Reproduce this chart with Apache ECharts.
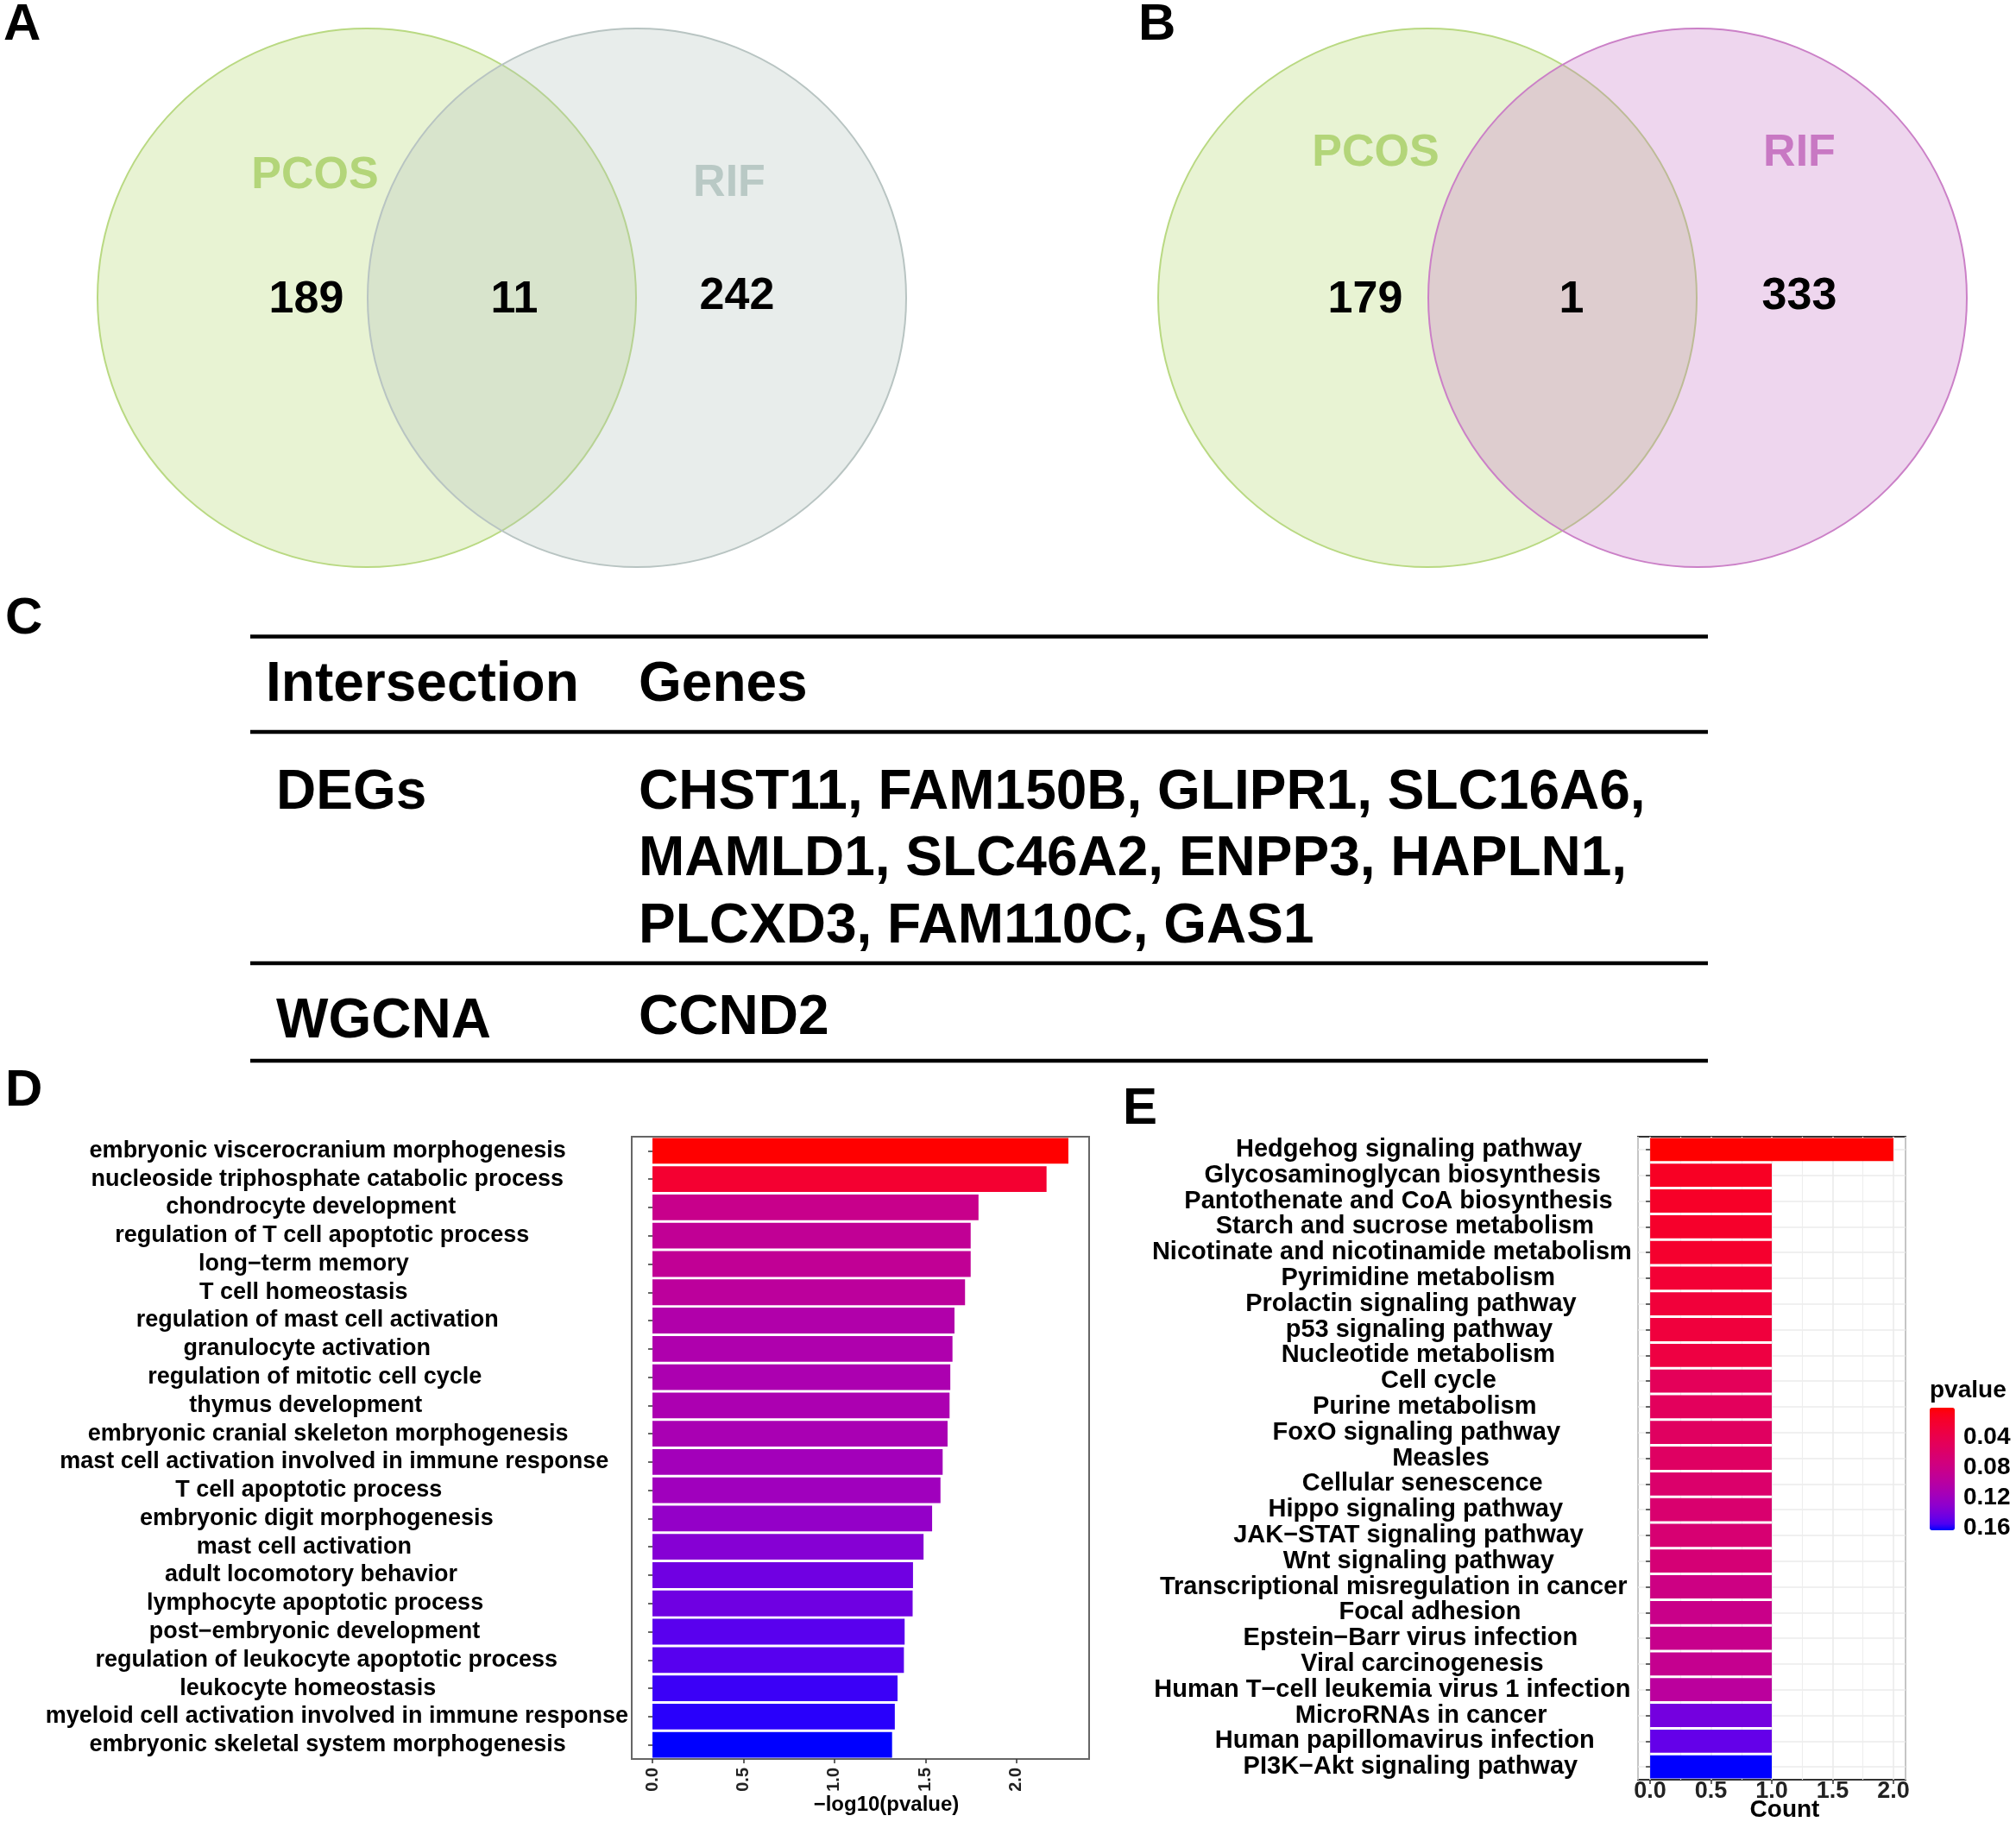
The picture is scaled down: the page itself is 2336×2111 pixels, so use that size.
<!DOCTYPE html>
<html><head><meta charset="utf-8">
<script src="https://cdn.jsdelivr.net/npm/echarts@6/dist/echarts.min.js"></script>
<style>html,body{margin:0;padding:0;background:#fff}#c{width:2336px;height:2111px}</style>
</head><body><div id="c"></div>
<script>
// ---------------- data ----------------
const vennSets = ['PCOS', 'RIF'];
const vennA_counts = [189, 11, 242];
const vennB_counts = [179, 1, 333];

const tableHeader = ['Intersection', 'Genes'];
const tableRowNames = ['DEGs', 'WGCNA'];
const tableRowGenes = [
  ['CHST11, FAM150B, GLIPR1, SLC16A6,', 'MAMLD1, SLC46A2, ENPP3, HAPLN1,', 'PLCXD3, FAM110C, GAS1'],
  ['CCND2']
];

const goTerms = [
  'embryonic viscerocranium morphogenesis',
  'nucleoside triphosphate catabolic process',
  'chondrocyte development',
  'regulation of T cell apoptotic process',
  'long\u2212term memory',
  'T cell homeostasis',
  'regulation of mast cell activation',
  'granulocyte activation',
  'regulation of mitotic cell cycle',
  'thymus development',
  'embryonic cranial skeleton morphogenesis',
  'mast cell activation involved in immune response',
  'T cell apoptotic process',
  'embryonic digit morphogenesis',
  'mast cell activation',
  'adult locomotory behavior',
  'lymphocyte apoptotic process',
  'post\u2212embryonic development',
  'regulation of leukocyte apoptotic process',
  'leukocyte homeostasis',
  'myeloid cell activation involved in immune response',
  'embryonic skeletal system morphogenesis'
];
const goLogP = [2.286, 2.166, 1.792, 1.749, 1.749, 1.718, 1.660, 1.649, 1.637, 1.633, 1.622,
  1.595, 1.583, 1.537, 1.490, 1.432, 1.430, 1.386, 1.382, 1.347, 1.332, 1.317];

const keggTerms = [
  'Hedgehog signaling pathway',
  'Glycosaminoglycan biosynthesis',
  'Pantothenate and CoA biosynthesis',
  'Starch and sucrose metabolism',
  'Nicotinate and nicotinamide metabolism',
  'Pyrimidine metabolism',
  'Prolactin signaling pathway',
  'p53 signaling pathway',
  'Nucleotide metabolism',
  'Cell cycle',
  'Purine metabolism',
  'FoxO signaling pathway',
  'Measles',
  'Cellular senescence',
  'Hippo signaling pathway',
  'JAK\u2212STAT signaling pathway',
  'Wnt signaling pathway',
  'Transcriptional misregulation in cancer',
  'Focal adhesion',
  'Epstein\u2212Barr virus infection',
  'Viral carcinogenesis',
  'Human T\u2212cell leukemia virus 1 infection',
  'MicroRNAs in cancer',
  'Human papillomavirus infection',
  'PI3K\u2212Akt signaling pathway'
];
const keggCounts = [2, 1, 1, 1, 1, 1, 1, 1, 1, 1, 1, 1, 1, 1, 1, 1, 1, 1, 1, 1, 1, 1, 1, 1, 1];
const keggPvalues = [0.001, 0.014, 0.016, 0.018, 0.020, 0.024, 0.027, 0.029, 0.032, 0.048, 0.050,
  0.053, 0.055, 0.061, 0.063, 0.066, 0.068, 0.078, 0.083, 0.085, 0.087, 0.097, 0.142, 0.148, 0.163];
const pvalueTicks = [0.04, 0.08, 0.12, 0.16];

// ---------------- colour helpers (Lab interpolation red -> blue) ----------------
function s2l(c){c/=255;return c<=0.04045?c/12.92:Math.pow((c+0.055)/1.055,2.4);}
function l2s(c){c=Math.max(0,Math.min(1,c));return Math.round(255*(c<=0.0031308?12.92*c:1.055*Math.pow(c,1/2.4)-0.055));}
function rgbToLab(rgb){
  const R=s2l(rgb[0]),G=s2l(rgb[1]),B=s2l(rgb[2]);
  const X=(0.4124*R+0.3576*G+0.1805*B)/0.95047,Y=0.2126*R+0.7152*G+0.0722*B,Z=(0.0193*R+0.1192*G+0.9505*B)/1.08883;
  const f=t=>t>216/24389?Math.cbrt(t):(24389/27*t+16)/116;
  const fx=f(X),fy=f(Y),fz=f(Z);
  return [116*fy-16,500*(fx-fy),200*(fy-fz)];
}
function labToRgb(lab){
  const fy=(lab[0]+16)/116,fx=fy+lab[1]/500,fz=fy-lab[2]/200;
  const fi=t=>t*t*t>216/24389?t*t*t:(116*t-16)/(24389/27);
  const X=0.95047*fi(fx),Y=fi(fy),Z=1.08883*fi(fz);
  const R=3.2406*X-1.5372*Y-0.4986*Z,G=-0.9689*X+1.8758*Y+0.0415*Z,B=0.0557*X-0.2040*Y+1.0570*Z;
  return 'rgb('+l2s(R)+','+l2s(G)+','+l2s(B)+')';
}
const LAB_R=rgbToLab([255,0,0]),LAB_B=rgbToLab([0,0,255]);
function redBlue(t){return labToRgb(LAB_R.map((v,i)=>v+(LAB_B[i]-v)*t));}

const FONT='"Liberation Sans", Arial, Helvetica, sans-serif';
const goMax=Math.max(...goLogP),goMin=Math.min(...goLogP);
const pMin=Math.min(...keggPvalues),pMax=Math.max(...keggPvalues);

// ---------------- layout constants ----------------
const gridD={left:732,top:1317,width:530,height:721};
const gridE={left:1898,top:1317,width:310,height:745};
const legendBar={left:2236,top:1631,w:29,h:142};
const TY=4; // vertical text nudge

// label placement (mimics the original's label anchoring)
const mctx=document.createElement('canvas').getContext('2d');
function textW(s,size){mctx.font='bold '+size+'px '+FONT;return mctx.measureText(s).width;}
function labelRich(labels,size,axisX,margin,centerFn){
  const rich={};
  labels.forEach((s,i)=>{
    const w=textW(s,size);
    const c=centerFn(w);
    const pr=Math.max(0,axisX-margin-(c+w/2));
    rich['r'+i]={fontSize:size,fontWeight:'bold',fontFamily:FONT,color:'#000',padding:[0,pr,0,0]};
  });
  return rich;
}
const D_LS=27,E_LS=29,LBL_MARGIN=4;
const richD=labelRich(goTerms,D_LS,gridD.left,LBL_MARGIN,w=>330+0.09*w);
const richE=labelRich(keggTerms,E_LS,gridE.left,LBL_MARGIN,w=>1684-0.128*w);

// ---------------- graphic: venns, table, panel letters ----------------
const g=[];
function txt(text,x,y,size,color,align){
  g.push({type:'text',z:10,style:{text:text,x:x,y:y+TY,font:'bold '+size+'px '+FONT,fill:color,
    align:align||'center',verticalAlign:'middle',textAlign:align||'center',textVerticalAlign:'middle'}});
}
function venn(cxL,cxR,cy,r,fillR,strokeR){
  g.push({type:'circle',shape:{cx:cxL,cy:cy,r:r},style:{fill:'rgba(190,220,130,0.35)',stroke:'#b9d982',lineWidth:2}});
  g.push({type:'circle',shape:{cx:cxR,cy:cy,r:r},style:{fill:fillR,stroke:strokeR,lineWidth:2}});
}
venn(425,738,345,312,'rgba(180,195,190,0.30)','#b8c4c2');
txt(vennSets[0],365,200,52,'#b3d579');
txt(vennSets[1],845,209,52,'#b9c9c5');
txt(String(vennA_counts[0]),355,344,52,'#000');
txt(String(vennA_counts[1]),596,344,52,'#000');
txt(String(vennA_counts[2]),854,340,52,'#000');

venn(1654,1967,345,312,'rgba(200,120,200,0.30)','#cb80c7');
txt(vennSets[0],1594,174,52,'#b3d579');
txt(vennSets[1],2085,174,52,'#c878c3');
txt(String(vennB_counts[0]),1582,344,52,'#000');
txt(String(vennB_counts[1]),1821,344,52,'#000');
txt(String(vennB_counts[2]),2085,340,52,'#000');

// table
[737.6,848,1116,1229].forEach(y=>g.push({type:'line',shape:{x1:290,y1:y,x2:1979,y2:y},style:{stroke:'#000',lineWidth:4.5}}));
txt(tableHeader[0],308,790,64,'#000','left');
txt(tableHeader[1],740,790,64,'#000','left');
txt(tableRowNames[0],320,915,64,'#000','left');
tableRowGenes[0].forEach((s,i)=>txt(s,740,915+i*77.5,64,'#000','left'));
txt(tableRowNames[1],320,1180,64,'#000','left');
txt(tableRowGenes[1][0],740,1176,64,'#000','left');

// panel letters
txt('A',4,25,60,'#000','left');
txt('B',1319,25,60,'#000','left');
txt('C',6,713,60,'#000','left');
txt('D',6,1260,60,'#000','left');
txt('E',1301,1281,60,'#000','left');

// pvalue legend title + tick labels
txt('pvalue',legendBar.left,1607,28,'#000','left');
pvalueTicks.forEach(v=>{
  const y=legendBar.top+(v-pMin)/(pMax-pMin)*legendBar.h;
  txt(v.toFixed(2),legendBar.left+legendBar.w+10,y-4,28,'#000','left');
});

// visualMap stops
const stops=[];for(let i=0;i<=20;i++)stops.push(redBlue(i/20));

const nE=keggTerms.length;
const option={
  animation:false,
  backgroundColor:'#fff',
  graphic:{elements:g},
  grid:[
    Object.assign({show:true,borderColor:'#666',borderWidth:2,backgroundColor:'#fff',outerBoundsMode:'none',containLabel:false},gridD),
    Object.assign({show:true,borderColor:'#333',borderWidth:2,backgroundColor:'#fff',outerBoundsMode:'none',containLabel:false},gridE)
  ],
  xAxis:[
    {type:'value',gridIndex:0,min:-0.114,max:2.4,splitNumber:5,
     axisLine:{show:false},splitLine:{show:false},
     axisTick:{show:true,length:5,lineStyle:{color:'#333',width:1.5}},
     axisLabel:{rotate:90,margin:10,fontSize:20,fontWeight:'bold',color:'#222',fontFamily:FONT,
       showMinLabel:false,showMaxLabel:false,formatter:v=>v.toFixed(1)},
     name:'\u2212log10(pvalue)',nameLocation:'middle',nameGap:40,
     nameTextStyle:{fontSize:24,fontWeight:'bold',color:'#000',fontFamily:FONT,padding:[0,0,0,60]}},
    {type:'value',gridIndex:1,min:-0.1,max:2.1,splitNumber:5,
     axisLine:{show:false},
     axisTick:{show:true,length:5,lineStyle:{color:'#333',width:1.5}},
     splitLine:{show:true,lineStyle:{color:'#ebebeb',width:1.6}},
     minorTick:{show:false,splitNumber:2},
     minorSplitLine:{show:true,lineStyle:{color:'#eeeeee',width:1.2}},
     axisLabel:{margin:0,fontSize:27,fontWeight:'bold',color:'#222',fontFamily:FONT,
       showMinLabel:false,showMaxLabel:false,formatter:v=>v.toFixed(1)},
     name:'Count',nameLocation:'middle',nameGap:21,nameMoveOverlap:false,
     nameTextStyle:{fontSize:28,fontWeight:'bold',color:'#000',fontFamily:FONT,padding:[0,0,0,30]}}
  ],
  yAxis:[
    {type:'category',gridIndex:0,data:goTerms,inverse:true,
     axisLine:{show:false},splitLine:{show:false},
     axisTick:{show:true,alignWithLabel:true,interval:0,length:5,lineStyle:{color:'#333',width:1.5}},
     axisLabel:{interval:0,align:'right',margin:LBL_MARGIN,fontSize:D_LS,fontWeight:'bold',color:'#000',fontFamily:FONT,
       formatter:(v,i)=>'{r'+i+'|'+v+'}',rich:richD}},
    {type:'category',gridIndex:1,data:keggTerms,inverse:true,
     axisLine:{show:false},splitLine:{show:false},
     axisTick:{show:true,alignWithLabel:true,interval:0,length:5,lineStyle:{color:'#333',width:1.5}},
     axisLabel:{interval:0,align:'right',margin:LBL_MARGIN,fontSize:E_LS,fontWeight:'bold',color:'#000',fontFamily:FONT,
       formatter:(v,i)=>'{r'+i+'|'+v+'}',rich:richE}},
    {type:'value',gridIndex:1,min:0,max:2*nE,interval:1,
     axisLine:{show:false},axisTick:{show:false},axisLabel:{show:false},
     splitLine:{show:true,lineStyle:{color:['rgba(0,0,0,0)','#ebebeb'],width:1.6}}}
  ],
  visualMap:{type:'continuous',seriesIndex:1,dimension:2,min:pMin,max:pMax,inverse:true,
    calculable:false,orient:'vertical',left:legendBar.left,top:legendBar.top,padding:0,
    itemWidth:legendBar.w,itemHeight:legendBar.h,text:null,inRange:{color:stops},hoverLink:false},
  series:[
    {type:'bar',xAxisIndex:0,yAxisIndex:0,barCategoryGap:'9%',
     data:goLogP.map(v=>({value:v,itemStyle:{color:redBlue((goMax-v)/(goMax-goMin))}}))},
    {type:'bar',xAxisIndex:1,yAxisIndex:1,barCategoryGap:'10%',encode:{x:0,y:1},
     data:keggTerms.map((t,i)=>[keggCounts[i],t,keggPvalues[i]])}
  ]
};
const chart=echarts.init(document.getElementById('c'),null,{renderer:'canvas'});
chart.setOption(option);
</script></body></html>
